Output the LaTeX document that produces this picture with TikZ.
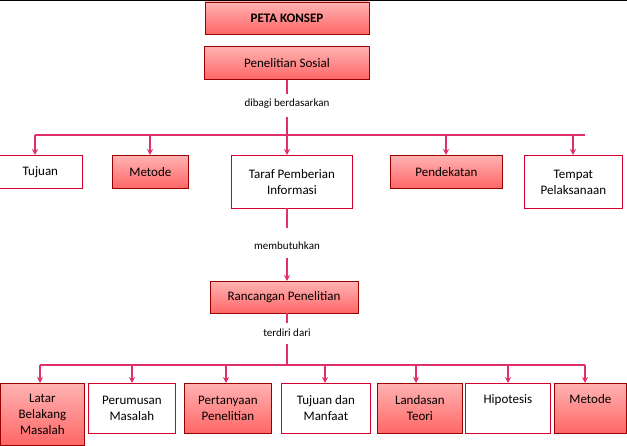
\documentclass[tikz,border=0pt]{standalone}
\usepackage{fontspec}
\setmainfont{Carlito}
\usetikzlibrary{arrows.meta}
\definecolor{conc}{HTML}{E0306A}
\begin{document}
\begin{tikzpicture}[x=1pt,y=-1pt,
  filled/.style={draw=red!60!black,line width=0.8pt,top color=red!30,bottom color=red!60!white,align=center,font=\fontsize{13}{16}\selectfont},
  plain/.style={draw=purple!70!red,line width=0.8pt,fill=white,align=center,font=\fontsize{13}{16}\selectfont},
  lbl/.style={font=\fontsize{11}{13}\selectfont},
  con/.style={draw=conc,line width=1.1pt},
  arr/.style={con,-{Stealth[length=6pt,width=6pt]}}]
\useasboundingbox (0,0) rectangle (627,446);
\draw[line width=1pt] (0,0.5) -- (627,0.5);
\node[filled,minimum width=164,minimum height=32,font=\bfseries\fontsize{13}{16}\selectfont] (peta) at (287,18) {PETA KONSEP};
\node[filled,minimum width=165,minimum height=33] (ps) at (287,63) {Penelitian Sosial};
\node[lbl] (dib) at (287,104) {dibagi berdasarkan};
\coordinate (h1) at (287,135);
\node[plain,minimum width=84,minimum height=33,anchor=north west] (tuj) at (-2,155) {Tujuan};
\node[filled,minimum width=76,minimum height=33,anchor=north west] (met) at (112,155) {Metode};
\node[plain,minimum width=121,minimum height=53,anchor=north west] (taraf) at (231,155) {Taraf Pemberian\\Informasi};
\node[filled,minimum width=112,minimum height=33,anchor=north west] (pend) at (390,155) {Pendekatan};
\node[plain,minimum width=98,minimum height=53,anchor=north west] (tempat) at (524,155) {Tempat\\Pelaksanaan};
\draw[con] (287,80) -- (287,94);
\draw[con] (287,117) -- (h1);
\draw[con] (35,135) -- (585,135);
\foreach \xx in {35,150,287,446,573}
  \draw[arr] (\xx,135) -- (\xx,155);
\node[lbl] (memb) at (287,246) {membutuhkan};
\node[filled,minimum width=148,minimum height=32,anchor=north] (ranc) at (284,281) {Rancangan Penelitian};
\draw[con] (287,208) -- (287,228);
\draw[arr] (287,258) -- (287,281);
\node[lbl] (ter) at (287,333) {terdiri dari};
\draw[con] (287,313) -- (287,323);
\draw[con] (287,344) -- (287,365);
\draw[con] (40,365) -- (585,365);
\node[filled,minimum width=84,minimum height=62,anchor=north west] (b1) at (0,383) {Latar\\Belakang\\Masalah};
\node[plain,minimum width=87,minimum height=50,anchor=north west] (b2) at (88,383) {Perumusan\\Masalah};
\node[filled,minimum width=87,minimum height=50,anchor=north west] (b3) at (184,383) {Pertanyaan\\Penelitian};
\node[plain,minimum width=89,minimum height=50,anchor=north west] (b4) at (281,383) {Tujuan dan\\Manfaat};
\node[filled,minimum width=85,minimum height=50,anchor=north west] (b5) at (377,383) {Landasan\\Teori};
\node[plain,minimum width=85,minimum height=50,anchor=north west,text depth=18pt] (b6) at (465,383) {Hipotesis};
\node[filled,minimum width=72,minimum height=50,anchor=north west,text depth=18pt] (b7) at (554,383) {Metode};
\foreach \xx in {40,132,226,325,416,508,585}
  \draw[arr] (\xx,365) -- (\xx,383);
\end{tikzpicture}
\end{document}
